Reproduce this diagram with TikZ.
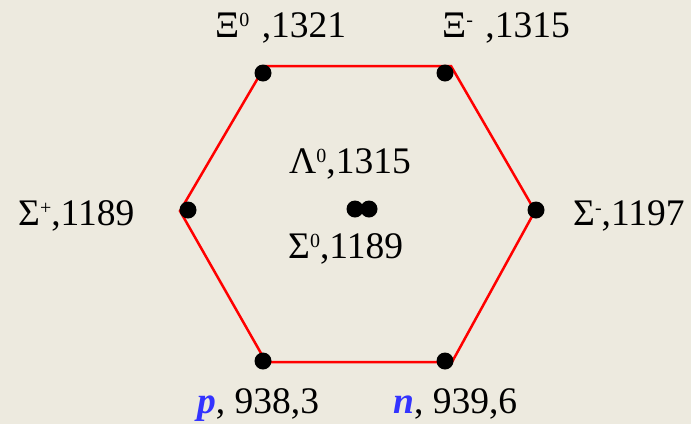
\documentclass[tikz,border=0pt]{standalone}
\usepackage{fontspec}
\setmainfont{Liberation Serif}
\definecolor{bg}{HTML}{EDEADF}
\definecolor{hexred}{HTML}{FF0000}
\definecolor{pblue}{HTML}{3333FF}
\newcommand{\sps}[1]{\raisebox{10.5pt}{\fontsize{20}{21}\selectfont #1}}
\begin{document}
\begin{tikzpicture}[x=1pt,y=-1pt,
  dot/.style={circle,fill=black,inner sep=0pt,minimum size=17pt},
  lbl/.style={anchor=base west,inner sep=0pt,font=\fontsize{37.5}{42}\selectfont},
  edge/.style={draw=hexred,line width=2.5pt}]
\fill[bg] (0,0) rectangle (691,424);
\useasboundingbox (0,0) rectangle (691,424);
% hexagon corners
\coordinate (c1) at (265,66);
\coordinate (c2) at (451,66);
\coordinate (c3) at (535,211);
\coordinate (c4) at (452,362);
\coordinate (c5) at (266,362);
\coordinate (c6) at (180,211);
\draw[edge] (c1) -- (c2) -- (c3) -- (c4) -- (c5) -- (c6) -- cycle;
% dots
\node[dot] (xi0) at (263,73) {};
\node[dot] (xim) at (445,73) {};
\node[dot] (sigm) at (536,210) {};
\node[dot] (n) at (445,361) {};
\node[dot] (p) at (263,361) {};
\node[dot] (sigp) at (188,210) {};
\node[dot] (lam) at (355,209) {};
\node[dot] (sig0) at (369,209) {};
% labels
\node[lbl] (lxi0) at (215,37) {Ξ\sps{0}\,\,,1321};
\node[lbl] (lxim) at (442,37) {Ξ\sps{-}\,\,,1315};
\node[lbl] (lsigp) at (18,225) {Σ\sps{+},1189};
\node[lbl] (llam) at (289,173) {Λ\sps{0},1315};
\node[lbl] (lsig0) at (288,258) {Σ\sps{0},1189};
\node[lbl] (lsigm) at (573,225) {Σ\sps{-},1197};
\node[lbl] (lp) at (197,413) {\textcolor{pblue}{\textbf{\textit{p}}}, 938,3};
\node[lbl] (ln) at (393,413) {\textcolor{pblue}{\textbf{\textit{n}}}, 939,6};
\end{tikzpicture}
\end{document}
